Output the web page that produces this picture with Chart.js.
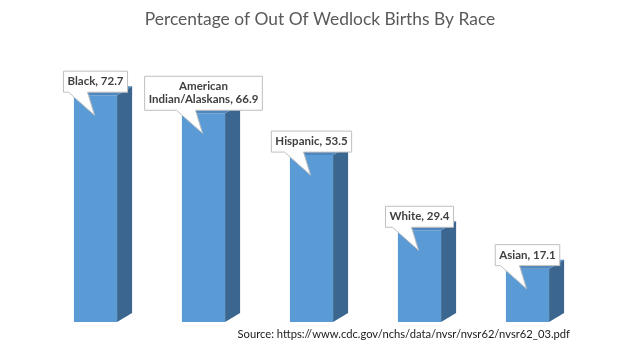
<!DOCTYPE html>
<html>
<head>
<meta charset="utf-8">
<script src="https://cdn.jsdelivr.net/npm/chart.js@4.4.1/dist/chart.umd.min.js"></script>
<style>
  html, body { margin: 0; padding: 0; background: #fff; }
  canvas { display: block; }
</style>
</head>
<body>
<canvas id="grafico" width="639" height="346"></canvas>
<script>
const categorias = ['Black', ['American', 'Indian/Alaskans'], 'Hispanic', 'White', 'Asian'];
const porcentajes = [72.7, 66.9, 53.5, 29.4, 17.1];
const titulo = 'Percentage of Out Of Wedlock Births By Race';
const fuente = 'Source: https://www.cdc.gov/nchs/data/nvsr/nvsr62/nvsr62_03.pdf';

const FRENTE = '#5b9bd5';
const LADO = '#3b668f';
const TAPA = '#4f86bd';
const FONDO_X = 15, FONDO_Y = 9;

// caras laterales y superiores para el efecto 3D
const barras3d = {
  id: 'barras3d',
  afterDatasetsDraw(chart) {
    const c = chart.ctx;
    chart.getDatasetMeta(0).data.forEach(bar => {
      const x1 = bar.x - bar.width / 2, x2 = bar.x + bar.width / 2;
      const top = bar.y, base = bar.base;
      c.save();
      c.fillStyle = LADO;
      c.beginPath();
      c.moveTo(x2, top);
      c.lineTo(x2 + FONDO_X, top - FONDO_Y);
      c.lineTo(x2 + FONDO_X, base - FONDO_Y);
      c.lineTo(x2, base);
      c.closePath();
      c.fill();
      c.fillStyle = TAPA;
      c.beginPath();
      c.moveTo(x1, top);
      c.lineTo(x1 + FONDO_X, top - FONDO_Y);
      c.lineTo(x2 + FONDO_X, top - FONDO_Y);
      c.lineTo(x2, top);
      c.closePath();
      c.fill();
      c.restore();
    });
  }
};

// etiquetas tipo globo con cola hacia la barra
const globos = {
  id: 'globos',
  afterDatasetsDraw(chart) {
    const c = chart.ctx;
    c.save();
    c.font = 'bold 11.5px Lato';
    c.textAlign = 'center';
    c.textBaseline = 'middle';
    chart.getDatasetMeta(0).data.forEach((bar, i) => {
      const cat = categorias[i];
      const lineas = Array.isArray(cat) ? cat.slice() : [cat];
      lineas[lineas.length - 1] += ', ' + porcentajes[i];
      const ancho = Math.max(...lineas.map(l => c.measureText(l).width)) + 8;
      const alto = lineas.length * 13 + 8;
      const cx = bar.x;
      const abajo = bar.y - 3;
      const izq = cx - ancho / 2, arriba = abajo - alto;
      const punta = bar.y + 20;

      c.fillStyle = '#ffffff';
      c.strokeStyle = '#bfbfbf';
      c.lineWidth = 1;
      c.beginPath();
      c.moveTo(izq, arriba);
      c.lineTo(izq + ancho, arriba);
      c.lineTo(izq + ancho, abajo);
      c.lineTo(cx - 8, abajo);
      c.lineTo(cx - 1, punta);
      c.lineTo(cx - 27, abajo);
      c.lineTo(izq, abajo);
      c.closePath();
      c.fill();
      c.stroke();

      c.fillStyle = '#404040';
      lineas.forEach((l, k) => {
        c.fillText(l, cx, arriba + 4 + 6.5 + k * 13);
      });
    });
    c.restore();
  }
};

const textos = {
  id: 'textos',
  afterDraw(chart) {
    const c = chart.ctx;
    c.save();
    c.fillStyle = '#595959';
    c.font = '17.4px Lato';
    c.textAlign = 'center';
    c.textBaseline = 'middle';
    c.fillText(titulo, 320, 19);
    c.fillStyle = '#1a1a1a';
    c.font = '11.2px Lato';
    c.textAlign = 'right';
    c.fillText(fuente, 570, 334);
    c.restore();
  }
};

new Chart(document.getElementById('grafico'), {
  type: 'bar',
  data: {
    labels: categorias,
    datasets: [{
      data: porcentajes,
      backgroundColor: FRENTE,
      borderWidth: 0,
      barPercentage: 0.4,
      categoryPercentage: 1
    }]
  },
  options: {
    responsive: false,
    animation: false,
    layout: { padding: { left: 41.5, right: 57.5, top: 72.4, bottom: 24 } },
    scales: {
      x: { display: false },
      y: { display: false, min: 0, max: 80 }
    },
    plugins: {
      legend: { display: false },
      tooltip: { enabled: false },
      title: { display: false }
    }
  },
  plugins: [barras3d, globos, textos]
});
</script>
</body>
</html>
